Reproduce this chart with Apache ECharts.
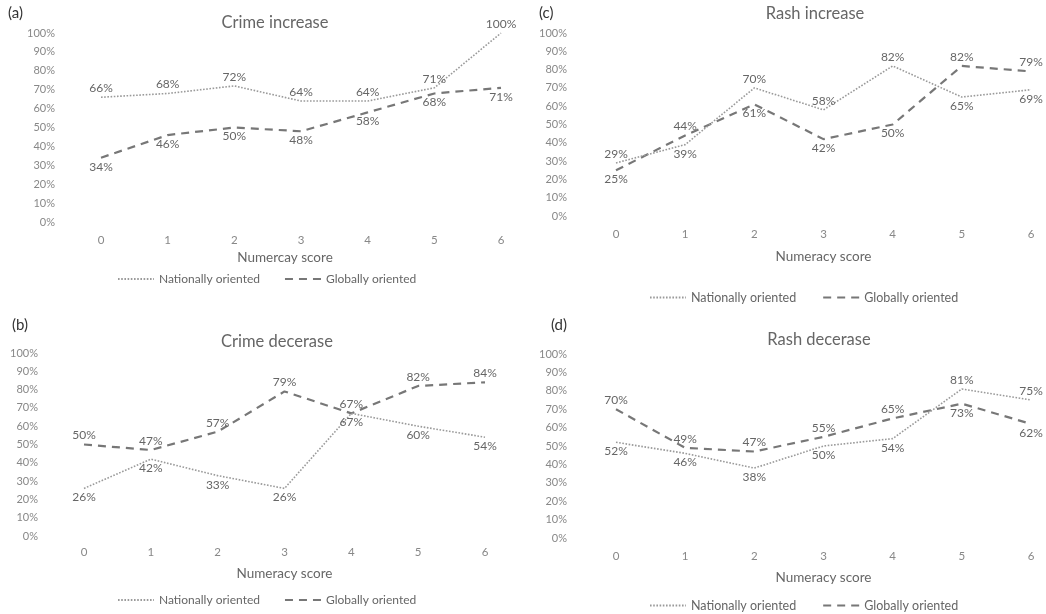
<!DOCTYPE html>
<html>
<head>
<meta charset="utf-8">
<script src="https://cdn.jsdelivr.net/npm/echarts@6/dist/echarts.min.js"></script>
<style>
  html, body { margin: 0; padding: 0; background: #fff; }
  #chart { width: 1046px; height: 614px; }
</style>
</head>
<body>
<div id="chart"></div>
<script>
// numeracy score categories
const scores = ['0', '1', '2', '3', '4', '5', '6'];
const yTicks = [0, 10, 20, 30, 40, 50, 60, 70, 80, 90, 100];

// (a) Crime increase
const crimeIncNational = [66, 68, 72, 64, 64, 71, 100];
const crimeIncGlobal = [34, 46, 50, 48, 58, 68, 71];
// (b) Crime decerase
const crimeDecNational = [26, 42, 33, 26, 67, 60, 54];
const crimeDecGlobal = [50, 47, 57, 79, 67, 82, 84];
// (c) Rash increase
const rashIncNational = [29, 39, 70, 58, 82, 65, 69];
const rashIncGlobal = [25, 44, 61, 42, 50, 82, 79];
// (d) Rash decerase
const rashDecNational = [52, 46, 38, 50, 54, 81, 75];
const rashDecGlobal = [70, 49, 47, 55, 65, 73, 62];

const FONT = 'Lato';

const panels = [
    { tag: '(a)', title: 'Crime increase', xName: 'Numercay score', nat: crimeIncNational, glob: crimeIncGlobal,
      grid: { left: 101, top: 33, width: 400, height: 189 }, yMargin: 46, xMargin: 12, nameGap: 29, nameShift: 32,
      tagPos: [8, 6], titlePos: [275, 14], legendTop: 273, legendLeft: 117, legendGap: 24, legendFont: 12 },
    { tag: '(b)', title: 'Crime decerase', xName: 'Numeracy score', nat: crimeDecNational, glob: crimeDecGlobal,
      grid: { left: 84, top: 353, width: 401, height: 183 }, yMargin: 46, xMargin: 10, nameGap: 31, nameShift: 0,
      tagPos: [12, 318], titlePos: [277, 333], legendTop: 594, legendLeft: 117, legendGap: 24, legendFont: 12 },
    { tag: '(c)', title: 'Rash increase', xName: 'Numeracy score', nat: rashIncNational, glob: rashIncGlobal,
      grid: { left: 616, top: 33, width: 415, height: 183 }, yMargin: 49, xMargin: 12, nameGap: 34, nameShift: 0,
      tagPos: [539, 6], titlePos: [815, 5], legendTop: 291, legendLeft: 649, legendGap: 26, legendFont: 12.5 },
    { tag: '(d)', title: 'Rash decerase', xName: 'Numeracy score', nat: rashDecNational, glob: rashDecGlobal,
      grid: { left: 616, top: 354, width: 415, height: 184 }, yMargin: 49, xMargin: 12, nameGap: 33, nameShift: 0,
      tagPos: [551, 318], titlePos: [819, 331], legendTop: 599, legendLeft: 649, legendGap: 26, legendFont: 12.5 }
];

const titles = [], grids = [], xAxes = [], yAxes = [], series = [], legends = [];

// label above the point for the higher series, below for the lower one
function labelled(values, other, isNational) {
    return values.map((v, i) => {
        const up = isNational ? v > other[i] : v >= other[i];
        return { value: v, label: { position: up ? 'top' : 'bottom' } };
    });
}

panels.forEach((p, k) => {
    titles.push({
        text: p.tag, left: p.tagPos[0], top: p.tagPos[1], padding: 0,
        textStyle: { fontFamily: FONT, fontSize: 15, fontWeight: 'normal', color: '#333' }
    });
    titles.push({
        text: p.title, left: p.titlePos[0], top: p.titlePos[1], padding: 0, textAlign: 'center',
        textStyle: { fontFamily: FONT, fontSize: 16.5, fontWeight: 'normal', color: '#666' }
    });
    grids.push(Object.assign({ containLabel: false }, p.grid));
    xAxes.push({
        type: 'category', gridIndex: k, data: scores, boundaryGap: false,
        name: p.xName, nameLocation: 'middle', nameGap: p.nameGap,
        nameTextStyle: { fontFamily: FONT, fontSize: 13.5, color: '#666', padding: [0, p.nameShift, 0, 0] },
        axisLine: { show: false }, axisTick: { show: false },
        axisLabel: { margin: p.xMargin, fontFamily: FONT, fontSize: 11.5, color: '#888' }
    });
    yAxes.push({
        type: 'value', gridIndex: k, min: yTicks[0], max: yTicks[yTicks.length - 1], interval: 10,
        splitLine: { show: false }, axisLine: { show: false }, axisTick: { show: false },
        axisLabel: { margin: p.yMargin, formatter: '{value}%', fontFamily: FONT, fontSize: 11, color: '#888' }
    });
    const lbl = { show: true, formatter: '{c}%', distance: 3, fontFamily: FONT, fontSize: 12, color: '#666' };
    series.push({
        name: 'Nationally oriented', type: 'line', xAxisIndex: k, yAxisIndex: k,
        data: labelled(p.nat, p.glob, true), symbol: 'circle', symbolSize: 0.1,
        itemStyle: { color: '#9a9a9a' },
        lineStyle: { color: '#9a9a9a', width: 1.6, type: [1.6, 1.6] },
        label: lbl, emphasis: { disabled: true }, z: 3
    });
    series.push({
        name: 'Globally oriented', type: 'line', xAxisIndex: k, yAxisIndex: k,
        data: labelled(p.glob, p.nat, false), symbol: 'circle', symbolSize: 0.1,
        itemStyle: { color: '#777' },
        lineStyle: { color: '#777', width: 2.2, type: [8, 6] },
        label: lbl, emphasis: { disabled: true }, z: 2
    });
    legends.push({
        left: p.legendLeft, top: p.legendTop, padding: 0, itemGap: p.legendGap, itemWidth: 36, itemHeight: 10,
        data: ['Nationally oriented', 'Globally oriented'],
        itemStyle: { opacity: 0 },
        textStyle: { fontFamily: FONT, fontSize: p.legendFont, color: '#666' },
        selectedMode: false
    });
});

const chart = echarts.init(document.getElementById('chart'));
chart.setOption({
    backgroundColor: '#fff',
    animation: false,
    title: titles,
    legend: legends,
    grid: grids,
    xAxis: xAxes,
    yAxis: yAxes,
    series: series
});
</script>
</body>
</html>
